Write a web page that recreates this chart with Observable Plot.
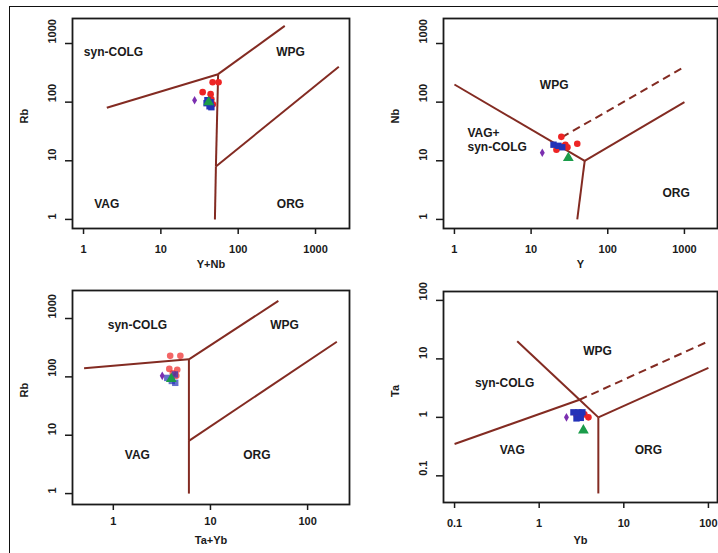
<!DOCTYPE html>
<html><head><meta charset="utf-8">
<script src="https://cdn.jsdelivr.net/npm/d3@7"></script>
<script src="https://cdn.jsdelivr.net/npm/@observablehq/plot@0.6"></script>
<style>
html,body{margin:0;padding:0;background:#fff;overflow:hidden;}
#wrap{position:relative;width:718px;height:553px;overflow:hidden;background:#fff;}
#border{position:absolute;left:9px;top:6px;width:760px;height:620px;border:1.5px solid #111;box-sizing:border-box;pointer-events:none;}
.panel{position:absolute;}
</style></head><body><div id="wrap"></div>
<script>
// ---------- Data ----------
// Panel 1: Rb vs Y+Nb
const p1Solid = [[2,80,55,300],[55,300,400,2000],[55,300,51.5,8],[51.5,8,50,1],[51.5,8,2000,400]];
const p1Dashed = [];
const p1Red = [[46.7,219],[55.7,219],[34.7,148],[44,137],[45,112],[47,92]];
const p1Blue = [[39,96],[42.6,85],[45,82],[40,108],[44,100]];
const p1Green = [[41.5,100]];
const p1Purple = [[27.3,108]];
const p1Labels = [["syn-COLG",2.44,700],["WPG",475,700],["VAG",2.0,1.8],["ORG",475,1.8]];
const p1LabelsLeft = [];

// Panel 2: Nb vs Y
const p2Solid = [[1,200,50,10],[50,10,1000,100],[50,10,40,1]];
const p2Dashed = [[25,25,1000,400]];
const p2Red = [[24.8,25.6],[28,18.8],[29.8,17],[40,19.5],[21.4,15.4],[26,17.5]];
const p2Blue = [[19.6,18.8],[22.7,18],[25.5,17]];
const p2Green = [[30.6,11.2]];
const p2Purple = [[14,13.7]];
const p2Labels = [["WPG",20,195],["ORG",780,2.8]];
const p2LabelsLeft = [["VAG+\nsyn-COLG",1.48,22.8]];

// Panel 3: Rb vs Ta+Yb
const p3Solid = [[0.5,140,6,200],[6,200,50,2000],[6,200,6,8],[6,8,6,1],[6,8,200,400]];
const p3Dashed = [];
const p3Red = [[3.85,229],[4.9,229],[3.77,137],[4.55,132],[4.45,104],[4.1,115]];
const p3Blue = [[3.59,96],[4.34,79],[4.0,85],[4.3,110]];
const p3Green = [[3.95,92]];
const p3Purple = [[3.19,104]];
const p3Labels = [["syn-COLG",1.77,760],["WPG",58,760],["VAG",1.77,4.5],["ORG",30,4.5]];
const p3LabelsLeft = [];

// Panel 4: Ta vs Yb
const p4Solid = [[0.55,20,3,2],[3,2,5,1],[5,1,5,0.05],[5,1,100,7],[0.1,0.35,3,2]];
const p4Dashed = [[3,2,100,20]];
const p4Red = [[3.07,1.17],[3.42,1.125],[3.82,1.0],[2.76,1.12]];
const p4Blue = [[2.54,1.22],[2.91,1.22],[3.24,1.22],[2.76,0.96],[3.1,0.98]];
const p4Green = [[3.33,0.6]];
const p4Purple = [[2.1,1.0]];
const p4Labels = [["WPG",4.9,13.7],["syn-COLG",0.39,3.8],["VAG",0.48,0.27],["ORG",19.5,0.27]];
const p4LabelsLeft = [];

const ticksA = [1,10,100,1000];
const ticksB = [1,10,100];
const ticksC = [0.1,1,10,100];

// ---------- Styles ----------
const BROWN = "#832b22";
const FONT = "'Liberation Sans', Arial, sans-serif";

function panel(o) {
  const X = d => d[0], Y = d => d[1];
  const fmt = d => String(d);
  const svg = Plot.plot({
    width: o.w, height: o.h,
    marginTop: o.mt, marginRight: o.mr, marginBottom: o.mb, marginLeft: o.ml,
    x: {type: "log", domain: o.xd},
    y: {type: "log", domain: o.yd},
    style: {fontFamily: FONT, fontSize: "11px", color: "#1a1a1a", background: "transparent", overflow: "visible"},
    marks: [
      Plot.link(o.solid, {x1: d => d[0], y1: d => d[1], x2: d => d[2], y2: d => d[3], stroke: BROWN, strokeWidth: 2}),
      Plot.link(o.dashed, {x1: d => d[0], y1: d => d[1], x2: d => d[2], y2: d => d[3], stroke: BROWN, strokeWidth: 2, strokeDasharray: "8,5"}),
      Plot.dot(o.red, {x: X, y: Y, r: 3.3, fill: "#ee2424", fillOpacity: o.op, symbol: "circle"}),
      Plot.dot(o.blue, {x: X, y: Y, r: 3.6, fill: "#2433b8", fillOpacity: o.op, symbol: "square"}),
      Plot.dot(o.green, {x: X, y: Y, r: 4, fill: "#1a9c4a", symbol: "triangle"}),
      Plot.dot(o.purple, {x: X, y: Y, r: 2.6, fill: "#7b2fb0", symbol: "diamond"}),
      Plot.text(o.labels, {x: d => d[1], y: d => d[2], text: d => d[0], fontSize: 12, fontWeight: "bold", fill: "#1a1a1a"}),
      Plot.text(o.labelsLeft, {x: d => d[1], y: d => d[2], text: d => d[0], fontSize: 12, fontWeight: "bold", fill: "#1a1a1a", textAnchor: "start", lineHeight: 1.15}),
      Plot.frame({stroke: "#1a1a1a", strokeWidth: 1.8}),
      Plot.axisX(o.xt, {tickSize: 6, tickFormat: () => "", label: null, stroke: "#1a1a1a", strokeWidth: 1.5}),
      Plot.axisY(o.yt, {tickSize: 7, tickFormat: () => "", label: null, stroke: "#1a1a1a", strokeWidth: 1.5}),
      Plot.text(o.xt, {x: d => d, text: fmt, frameAnchor: "bottom", dy: o.xlDy, fontWeight: "bold"}),
      Plot.text(o.yt, {y: d => d, text: fmt, frameAnchor: "left", dx: -20, rotate: -90, fontWeight: "bold"}),
      Plot.text([o.xLabel], {text: d => d, frameAnchor: "bottom", dy: o.xtDy, fontWeight: "bold", fontSize: 11}),
      Plot.text([o.yLabel], {text: d => d, frameAnchor: "left", dx: -48, rotate: -90, fontWeight: "bold", fontSize: 11})
    ]
  });
  svg.classList.add("panel");
  svg.style.left = o.left + "px";
  svg.style.top = o.top + "px";
  document.getElementById("wrap").appendChild(svg);
}

panel({left: 0, top: 0, w: 359, h: 276, mt: 18, mr: 10, mb: 48, ml: 72,
  xd: [0.72, 2750], yd: [0.7, 2670], xt: ticksA, yt: ticksA,
  xLabel: "Y+Nb", yLabel: "Rb", xlDy: 24, xtDy: 39,
  solid: p1Solid, dashed: p1Dashed, red: p1Red, blue: p1Blue, green: p1Green, purple: p1Purple,
  labels: p1Labels, labelsLeft: p1LabelsLeft, op: 1});

panel({left: 359, top: 0, w: 359, h: 276, mt: 18, mr: 1, mb: 48, ml: 84,
  xd: [0.72, 2700], yd: [0.7, 2670], xt: ticksA, yt: ticksA,
  xLabel: "Y", yLabel: "Nb", xlDy: 24, xtDy: 39,
  solid: p2Solid, dashed: p2Dashed, red: p2Red, blue: p2Blue, green: p2Green, purple: p2Purple,
  labels: p2Labels, labelsLeft: p2LabelsLeft, op: 1});

panel({left: 0, top: 276, w: 359, h: 277, mt: 14, mr: 10, mb: 49, ml: 72,
  xd: [0.38, 270], yd: [0.65, 3020], xt: ticksB, yt: ticksA,
  xLabel: "Ta+Yb", yLabel: "Rb", xlDy: 20, xtDy: 39,
  solid: p3Solid, dashed: p3Dashed, red: p3Red, blue: p3Blue, green: p3Green, purple: p3Purple,
  labels: p3Labels, labelsLeft: p3LabelsLeft, op: 0.7});

panel({left: 359, top: 276, w: 359, h: 277, mt: 15, mr: 1, mb: 51, ml: 84,
  xd: [0.074, 128], yd: [0.035, 142], xt: ticksC, yt: ticksC,
  xLabel: "Yb", yLabel: "Ta", xlDy: 24, xtDy: 41,
  solid: p4Solid, dashed: p4Dashed, red: p4Red, blue: p4Blue, green: p4Green, purple: p4Purple,
  labels: p4Labels, labelsLeft: p4LabelsLeft, op: 1});

const border = document.createElement("div");
border.id = "border";
document.getElementById("wrap").appendChild(border);
</script></body></html>
